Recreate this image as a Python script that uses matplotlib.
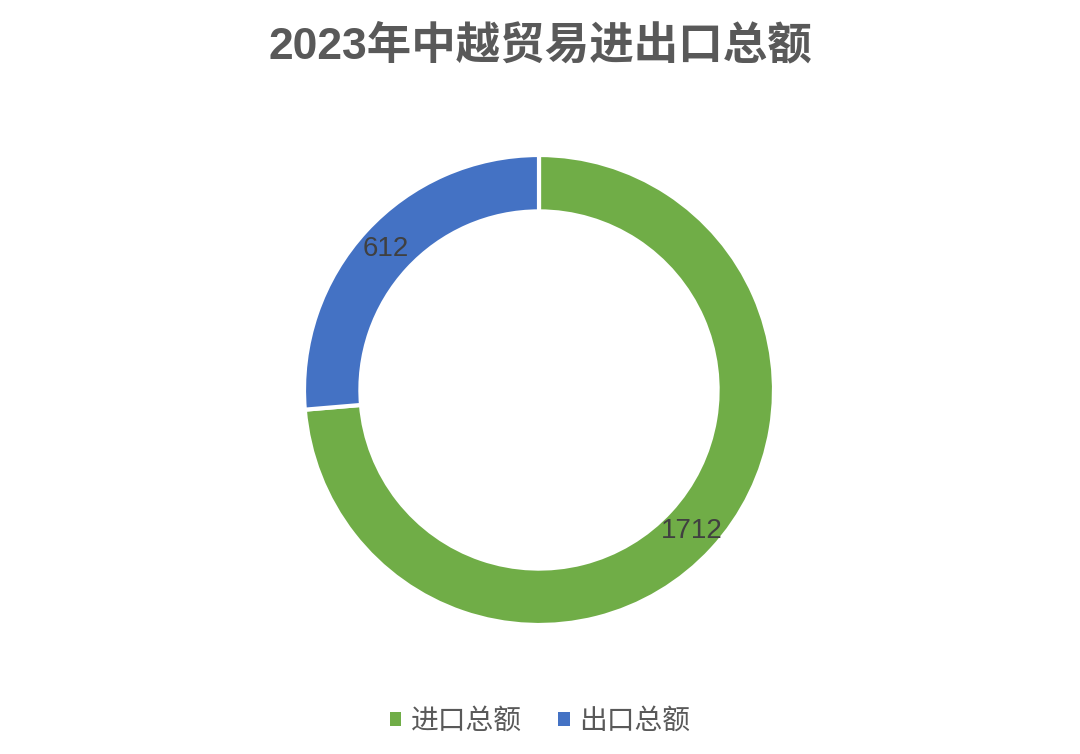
import matplotlib

matplotlib.use("Agg")
import matplotlib.pyplot as plt
from matplotlib.patches import Patch

# data
categories = ["进口总额", "出口总额"]
values = [1712, 612]
colors = ["#70AD47", "#4472C4"]
title = "2023年中越贸易进出口总额"

plt.rcParams["font.family"] = ["Liberation Sans", "Noto Sans CJK SC", "DejaVu Sans"]

fig = plt.figure(figsize=(10.8, 7.54), dpi=100)
W, H = 1080, 754
cx, cy, r = 539, 390, 235
ax = fig.add_axes([(cx - r) / W, (H - cy - r) / H, 2 * r / W, 2 * r / H])
ax.set_aspect("equal")
ax.axis("off")

total = sum(values)
wedges, _, autotexts = ax.pie(
    values,
    colors=colors,
    startangle=90,
    counterclock=False,
    radius=1.0,
    wedgeprops=dict(width=0.24, edgecolor="white", linewidth=3),
    autopct=lambda p: f"{p * total / 100:.0f}",
    pctdistance=0.885,
    textprops=dict(color="#404040", fontsize=20),
)
ax.set_xlim(-1, 1)
ax.set_ylim(-1, 1)

fig.text(0.5, 1 - 46 / H, title, ha="center", va="center",
         fontsize=32, fontweight="bold", color="#595959")

handles = [Patch(facecolor=c, edgecolor="none") for c in colors]
fig.legend(handles, categories, loc="center", bbox_to_anchor=(0.5, 1 - 722 / H),
           ncol=2, frameon=False, fontsize=20, handlelength=0.42, handleheight=0.42,
           handletextpad=0.35, columnspacing=1.3, labelcolor="#595959")

fig.savefig("out.png", dpi=100)
